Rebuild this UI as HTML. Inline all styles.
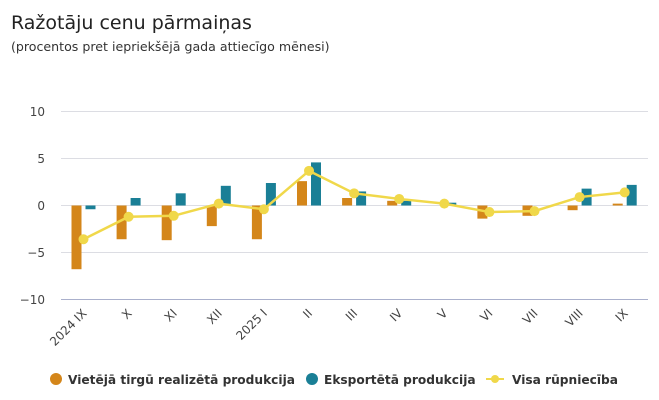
<!DOCTYPE html>
<html><head><meta charset="utf-8"><style>
html,body{margin:0;padding:0;background:#fff;width:659px;height:400px;overflow:hidden}
svg{display:block;font-family:"DejaVu Sans","Liberation Sans",sans-serif}
</style></head><body>
<svg id="s" width="659" height="400" xmlns="http://www.w3.org/2000/svg">
<text x="11" y="29" font-size="19" fill="#222">Ražotāju cenu pārmaiņas</text>
<text x="11" y="51" font-size="12.6" fill="#333">(procentos pret iepriekšējā gada attiecīgo mēnesi)</text>
<g font-size="12" fill="#444" text-anchor="end">
<text x="45" y="116">10</text><text x="45" y="163">5</text><text x="45" y="210">0</text><text x="45" y="257">−5</text><text x="45" y="304">−10</text>
</g>
<g stroke="#dcdde3" stroke-width="1">
<line x1="61" x2="648" y1="111.5" y2="111.5"/><line x1="61" x2="648" y1="158.5" y2="158.5"/><line x1="61" x2="648" y1="205.5" y2="205.5"/><line x1="61" x2="648" y1="252.5" y2="252.5"/>
</g>
<line x1="61" x2="648" y1="299.5" y2="299.5" stroke="#aab0cc"/>
<g id="g"></g>
<g font-size="12.2" font-weight="bold" fill="#333">
<circle cx="56" cy="379" r="6" fill="#d4861a"/><text x="68" y="384">Vietējā tirgū realizētā produkcija</text>
<circle cx="312" cy="379" r="6" fill="#1a7f96"/><text x="324" y="384">Eksportētā produkcija</text>
<line x1="486" x2="504" y1="379" y2="379" stroke="#f0d84a" stroke-width="2"/><circle cx="495" cy="379" r="4" fill="#f0d84a"/><text x="512" y="384">Visa rūpniecība</text>
</g>
</svg>
<script>
var o=[-6.8,-3.6,-3.7,-2.2,-3.6,2.6,0.8,0.5,0,-1.4,-1.1,-0.5,0.2];
var t=[-0.4,0.8,1.3,2.1,2.4,4.6,1.5,0.5,0.3,0,0,1.8,2.2];
var l=[-3.6,-1.2,-1.1,0.2,-0.4,3.7,1.3,0.7,0.2,-0.7,-0.6,0.9,1.4];
var lab=["2024 IX","X","XI","XII","2025 I","II","III","IV","V","VI","VII","VIII","IX"];
function Y(v){return 205.5-9.37*v}
var h="",pts=[];
for(var i=0;i<13;i++){var c=83.5+45.1*i;
function bar(x,v,col){var a=Y(v),b=Y(0);return '<rect x="'+x+'" y="'+Math.min(a,b)+'" width="10" height="'+Math.max(Math.abs(a-b),0.01)+'" fill="'+col+'"/>';}
h+=bar(c-12,o[i],"#d4861a")+bar(c+2,t[i],"#1a7f96");
pts.push(c+","+Y(l[i]));
h+='<text transform="translate('+(c+4)+',314) rotate(-45)" text-anchor="end" font-size="12" fill="#444">'+lab[i]+'</text>';}
h+='<polyline points="'+pts.join(" ")+'" fill="none" stroke="#f0d84a" stroke-width="2.5"/>';
pts.forEach(function(p){var q=p.split(",");h+='<circle cx="'+q[0]+'" cy="'+q[1]+'" r="5" fill="#f0d84a"/>';});
document.getElementById("g").innerHTML=h;
</script>
</body></html>
